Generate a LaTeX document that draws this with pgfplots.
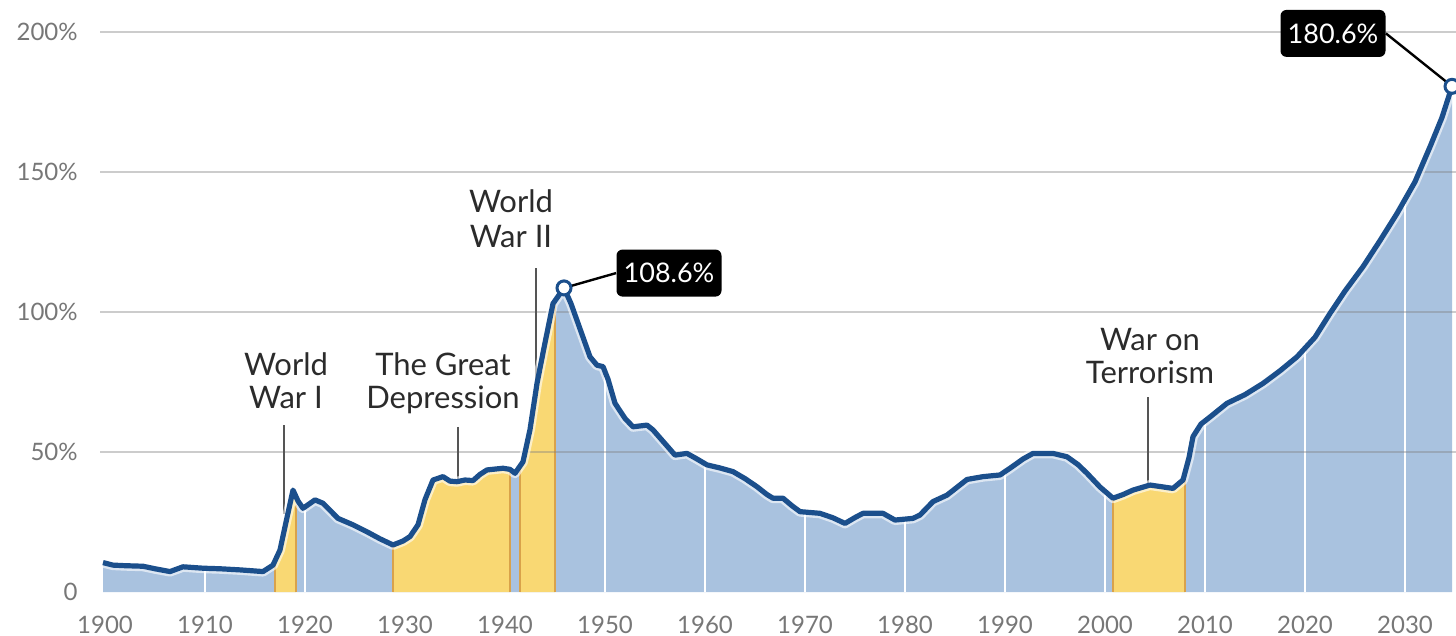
\documentclass[border=0pt]{standalone}
\usepackage{fontspec}
\setmainfont{Lato}
\usepackage{pgfplots}
\pgfplotsset{compat=1.18}
\usepgfplotslibrary{fillbetween}
\usepackage{pgfplotstable}

\definecolor{areablue}{HTML}{A9C2DF}
\definecolor{lineblue}{HTML}{1B4F8C}
\definecolor{warfill}{HTML}{F9D873}
\definecolor{waredge}{HTML}{D9A24A}
\definecolor{ticktext}{HTML}{777777}
\definecolor{anntext}{HTML}{2B2B2B}

\pgfplotstableread{
year val
1899.8 10.5
1900.8 9.6
1902 9.4
1903.8 9.2
1905 8.3
1906.5 7.3
1907.8 9.0
1909.8 8.5
1911.5 8.3
1913.5 7.9
1915.8 7.3
1916.8 9.6
1917.5 15
1918 23.3
1918.8 36.4
1919.3 32.5
1919.8 29.9
1921 32.9
1921.8 31.7
1923.3 26.3
1924.8 24
1926.2 21.5
1927.5 19
1928.8 16.8
1929.8 18.2
1930.5 19.8
1931.3 24
1932 33
1932.8 40
1933.8 41.2
1934.5 39.6
1935.2 39.4
1936 40
1936.8 39.8
1937.5 42
1938.2 43.6
1939.8 44.2
1940.5 43.8
1941 42.4
1941.8 46.5
1942.5 58
1943.2 74.5
1944 89
1944.8 103
1945.9 108.6
1946.6 103
1947.2 97
1948 89
1948.5 84
1949.2 81
1949.8 80.5
1950.3 76
1951 67.4
1952 62
1952.8 59
1954.2 59.6
1954.8 57.9
1956 53
1957 48.9
1958.2 49.5
1959.2 47.5
1960.2 45.4
1961.5 44.3
1962.8 43
1964 40.5
1965.2 37.6
1966.2 34.8
1966.8 33.5
1967.8 33.5
1968.7 30.8
1969.5 28.7
1971.5 28.1
1972.8 26.5
1974 24.5
1975 26.6
1975.8 28.1
1977.8 28.1
1979 25.7
1980.8 26.3
1981.5 27.5
1982.8 32.3
1984.2 34.6
1986.2 40.2
1987.8 41.2
1989.5 41.8
1990.5 44.2
1991.8 47.5
1992.8 49.5
1994.8 49.5
1996.2 48.3
1997.3 45.5
1998.2 42.4
1999.5 37.5
2000.8 33.5
2001.8 34.8
2002.8 36.4
2004.5 38.2
2006.8 37
2007.8 40
2008.4 48
2008.8 55.5
2009.6 60
2010.5 62.5
2012.2 67.4
2014 70.5
2015.8 74.5
2017.5 79
2019.2 84
2021 91
2022.5 99.5
2024 107.5
2025.8 116.2
2027.5 125.5
2029.2 135.2
2031 146.5
2032.5 159
2033.7 169.5
2034.7 180.6
}\debt

\begin{document}
\begin{tikzpicture}
\begin{axis}[
  scale only axis, width=675.5pt, height=280pt,
  xmin=1900, xmax=2035.1, ymin=0, ymax=200,
  axis line style={draw=none}, tick style={draw=none},
  xtick={1900,1910,1920,1930,1940,1950,1960,1970,1980,1990,2000,2010,2020,2030},
  xticklabels={1900,1910,1920,1930,1940,1950,1960,1970,1980,1990,2000,2010,2020,2030},
  ytick={0,50,100,150,200},
  yticklabels={0,50\%,100\%,150\%,200\%},
  xticklabel style={font=\fontsize{12}{12}\selectfont, text=ticktext, anchor=center, yshift=-16.5pt},
  yticklabel style={font=\fontsize{12}{12}\selectfont, text=ticktext, anchor=east, inner sep=0pt, xshift=-13.5pt},
  clip=false,
]
\coordinate (bbsw) at (axis cs:1889.5,-15.71);
\coordinate (bbne) at (axis cs:2035.1,211.43);

\addplot[draw=none, name path=curve] table[x=year,y=val]{\debt};
\addplot[draw=none, name path=base] coordinates {(1899.8,0) (2034.7,0)};
\addplot[fill=areablue, draw=none] fill between[of=curve and base];

\pgfplotsinvokeforeach{1910,1920,1950,1960,1970,1980,1990,2000,2010,2020,2030}{
  \draw[white, line width=1pt] (axis cs:#1,0) -- (axis cs:#1,185);
}

\addplot[fill=warfill, draw=none] fill between[of=curve and base, soft clip={domain=1917:1919.1}];
\addplot[fill=warfill, draw=none] fill between[of=curve and base, soft clip={domain=1928.8:1940.5}];
\addplot[fill=warfill, draw=none] fill between[of=curve and base, soft clip={domain=1941.5:1945}];
\addplot[fill=warfill, draw=none] fill between[of=curve and base, soft clip={domain=2000.8:2008}];

\draw[waredge, line width=0.8pt] (axis cs:1917,0) -- (axis cs:1917,11);
\draw[waredge, line width=0.8pt] (axis cs:1919.1,0) -- (axis cs:1919.1,31);
\draw[waredge, line width=0.8pt] (axis cs:1928.8,0) -- (axis cs:1928.8,16);
\draw[waredge, line width=0.8pt] (axis cs:1940.5,0) -- (axis cs:1940.5,43);
\draw[waredge, line width=0.8pt] (axis cs:1941.5,0) -- (axis cs:1941.5,44);
\draw[waredge, line width=0.8pt] (axis cs:1945,0) -- (axis cs:1945,104);
\draw[waredge, line width=0.8pt] (axis cs:2000.8,0) -- (axis cs:2000.8,33);
\draw[waredge, line width=0.8pt] (axis cs:2008,0) -- (axis cs:2008,42);

\pgfplotsinvokeforeach{50,100,150,200}{
  \draw[gray, opacity=0.4, line width=1pt] (axis cs:1899.5,#1) -- (axis cs:2035.1,#1);
}

% pointer lines
\draw[anntext!80, line width=0.8pt] (axis cs:1917.9,59.6) -- (axis cs:1917.9,28);
\draw[anntext!80, line width=0.8pt] (axis cs:1935.3,59) -- (axis cs:1935.3,40);
\draw[anntext!80, line width=0.8pt] (axis cs:1943.1,115.7) -- (axis cs:1943.1,75);
\draw[anntext!80, line width=0.8pt] (axis cs:2004.3,69.6) -- (axis cs:2004.3,38.5);

\addplot[white, opacity=0.6, line width=5pt, line join=round] table[x=year,y=val]{\debt};
\addplot[lineblue, line width=2.6pt, line join=round] table[x=year,y=val]{\debt};

% annotations
\begin{scope}[every node/.style={font=\fontsize{15.5}{15.5}\selectfont, text=anntext, anchor=base, inner sep=0pt}]
\node at (axis cs:1918.1,77.5) {World};
\node at (axis cs:1918.1,65.7) {War I};
\node at (axis cs:1933.8,77.5) {The Great};
\node at (axis cs:1933.8,65.7) {Depression};
\node at (axis cs:1940.6,135.4) {World};
\node at (axis cs:1940.6,122.9) {War II};
\node at (axis cs:2004.5,86.4) {War on};
\node at (axis cs:2004.5,74.6) {Terrorism};
\end{scope}

% value boxes
\node[fill=black, rounded corners=3pt, minimum width=52.5pt, minimum height=23.5pt, inner sep=0pt,
      text=white, font=\fontsize{13.5}{13.5}\selectfont] (b1) at (axis cs:1956.4,113.9) {108.6\%};
\node[fill=black, rounded corners=3pt, minimum width=52.5pt, minimum height=23.5pt, inner sep=0pt,
      text=white, font=\fontsize{13.5}{13.5}\selectfont] (b2) at (axis cs:2022.8,199.5) {180.6\%};
\draw[black, line width=1.2pt] (axis cs:1945.9,108.6) -- (b1.west);
\draw[black, line width=1.2pt] (b2.east) -- (axis cs:2034.7,180.6);

\addplot[only marks, mark=*, mark size=3.5pt, mark options={fill=white, draw=lineblue, line width=1.5pt}]
  coordinates {(1945.9,108.6) (2034.7,180.6)};
\end{axis}
\pgfresetboundingbox
\path[use as bounding box] (bbsw) rectangle (bbne);
\end{tikzpicture}
\end{document}
